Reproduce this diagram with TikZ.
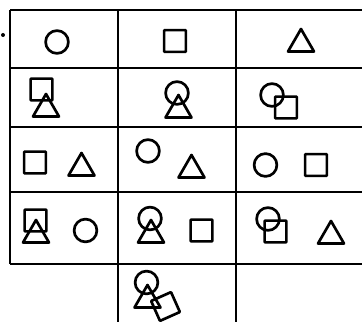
\documentclass[tikz,border=0pt]{standalone}
\usetikzlibrary{shapes.geometric}
\tikzset{
    grid line/.style={line width=2.6pt, color=black},
    shp/.style={draw, line width=3.8pt, line join=round, inner sep=0pt, outer sep=0pt},
    ring/.style={shp, circle, minimum size=11.4mm},
    box/.style={shp, rectangle, rounded corners=1pt, minimum size=10.9mm},
    tri/.style={shp, regular polygon, regular polygon sides=3, minimum size=15mm}
}
\begin{document}
\begin{tikzpicture}[x=0.5mm, y=-0.5mm]
\useasboundingbox (0,0) rectangle (362,322);

% Table rules
\foreach \y in {10,68,127,192,264}
    \draw[grid line] (10,\y) -- (362,\y);
\draw[grid line] (10,10) -- (10,264);
\draw[grid line] (118,10) -- (118,322);
\draw[grid line] (236,10) -- (236,322);
\fill (3,35) circle (1mm);

% Row 1
\node[ring] (c11) at (57,42) {};
\node[box] (s12) at (175,41) {};
\node[tri] (t13) at (301,44) {};

% Row 2
\node[box] (s21) at (41.5,89.5) {};
\node[tri] (t21) at (46,109) {};
\node[ring] (c22) at (177,93) {};
\node[tri] (t22) at (178.5,110) {};
\node[ring] (c23) at (272,95) {};
\node[box] (s23) at (286,107.5) {};

% Row 3
\node[box] (s31) at (35,162.5) {};
\node[tri] (t31) at (81.5,168) {};
\node[ring] (c32) at (148,151) {};
\node[tri] (t32) at (191.5,170) {};
\node[ring] (c33) at (265.5,165) {};
\node[box] (s33) at (316,165) {};

% Row 4
\node[box] (s41) at (35.5,220.5) {};
\node[tri] (t41) at (36,235) {};
\node[ring] (c41) at (85.5,230.5) {};
\node[ring] (c42) at (150,218.5) {};
\node[tri] (t42) at (151,235) {};
\node[box] (s42) at (201.5,230.5) {};
\node[ring] (c43) at (268,219) {};
\node[box] (s43) at (275.5,231.5) {};
\node[tri] (t43) at (331,236) {};

% Row 5
\node[ring] (c52) at (146.5,282.5) {};
\node[tri] (t52) at (147.5,300) {};
\node[box, rotate=24] (s52) at (165.5,306.5) {};

\end{tikzpicture}
\end{document}
